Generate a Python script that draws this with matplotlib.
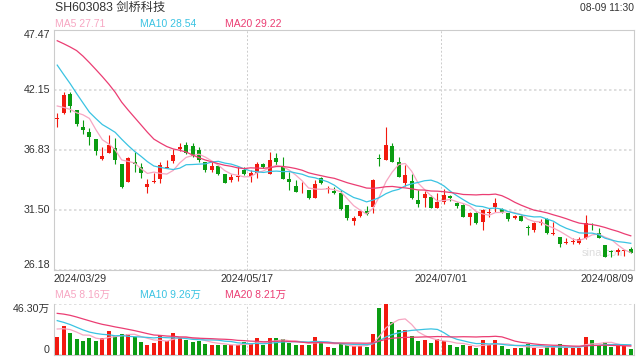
"""
Daily K-line for SH603083 with MA5/10/20 and volume panel (sina style).
"""

import numpy as np
import pandas as pd

import matplotlib
matplotlib.use("Agg")
import matplotlib.pyplot as plt

plt.rcParams["font.family"] = ["Liberation Sans", "Noto Sans CJK SC"]

TITLE = "SH603083 剑桥科技"
STAMP = "08-09 11:30"
date_labels = ["2024/03/29", "2024/05/17", "2024/07/01", "2024/08/09"]
price_ticks = [26.18, 31.50, 36.83, 42.15, 47.47]
vol_ticks = [0, 46.30]
vol_tick_labels = ["0", "46.30万"]
price_legend = ["MA5 27.71", "MA10 28.54", "MA20 29.22"]
vol_legend = ["MA5 8.16万", "MA10 9.26万", "MA20 8.21万"]

# daily OHLC, 2024/03/29 .. 2024/08/09 (90 sessions)
opens = [39.55, 40.07, 41.79, 40.37, 38.83, 38.45, 37.76, 36.02, 36.58, 36.97,
         35.58, 34.01, 35.72, 35.28, 33.50, 33.95, 34.22, 35.25, 35.84, 36.88,
         37.26, 37.17, 36.82, 35.73, 35.05, 35.40, 34.69, 34.16, 34.46, 35.05,
         34.51, 34.75, 35.58, 34.69, 36.08, 35.34, 34.25, 33.63, 33.33, 33.27,
         32.59, 34.31, 33.39, 33.18, 32.98, 31.94, 30.52, 31.00, 31.41, 31.79,
         36.05, 35.93, 37.18, 35.73, 33.93, 34.07, 32.39, 32.53, 32.68, 31.71,
         32.18, 32.77, 32.09, 31.94, 30.91, 31.20, 30.41, 31.24, 31.73, 31.59,
         31.26, 30.76, 30.96, 29.95, 29.72, 30.32, 30.67, 29.36, 29.13, 28.58,
         28.67, 28.60, 28.98, 29.98, 29.43, 28.39, 27.82, 27.80, 27.85, 28.05]
highs = [40.07, 41.97, 42.00, 40.40, 39.48, 38.74, 37.80, 37.11, 38.15, 37.85,
         35.60, 36.23, 36.67, 35.64, 34.24, 34.75, 35.78, 35.93, 36.88, 37.47,
         37.56, 37.41, 37.11, 35.80, 35.79, 35.45, 34.70, 34.69, 35.34, 35.28,
         35.05, 35.79, 35.70, 36.67, 36.52, 36.23, 34.84, 34.16, 34.01, 33.30,
         34.16, 34.46, 33.63, 33.51, 33.27, 31.94, 31.00, 31.50, 31.83, 34.25,
         36.44, 38.89, 37.42, 36.23, 35.49, 34.66, 33.27, 33.18, 32.83, 33.04,
         33.36, 32.83, 32.18, 32.00, 31.35, 31.35, 31.60, 31.65, 32.53, 31.65,
         31.27, 31.05, 31.05, 30.17, 30.46, 30.67, 30.76, 30.46, 29.13, 28.98,
         29.05, 29.13, 31.05, 30.37, 29.87, 28.39, 27.95, 28.10, 27.95, 28.20]
lows = [38.89, 40.05, 40.22, 38.98, 38.21, 37.26, 36.37, 35.93, 36.52, 35.55,
        33.45, 33.98, 34.90, 34.30, 33.03, 33.86, 33.92, 35.19, 35.64, 36.76,
        36.46, 36.22, 35.78, 34.90, 34.90, 34.60, 33.86, 34.00, 34.10, 34.60,
        34.01, 34.37, 35.19, 34.69, 35.49, 34.25, 33.27, 33.12, 33.03, 32.50,
        32.59, 33.80, 33.03, 32.92, 31.50, 30.60, 30.17, 30.91, 31.10, 31.20,
        35.43, 35.93, 35.79, 34.46, 33.66, 32.48, 31.80, 31.80, 31.65, 31.65,
        32.00, 32.30, 31.70, 30.90, 30.17, 30.30, 29.72, 30.90, 31.35, 31.25,
        30.55, 30.70, 30.50, 29.28, 29.57, 30.17, 29.37, 29.28, 28.25, 28.46,
        28.46, 28.46, 28.90, 29.72, 28.98, 27.30, 27.30, 27.50, 27.40, 27.65]
closes = [39.57, 41.70, 40.75, 39.13, 38.59, 37.94, 36.73, 36.29, 37.26, 35.93,
          33.51, 36.08, 35.60, 34.75, 33.80, 34.10, 35.49, 35.30, 36.37, 37.11,
          36.58, 36.28, 35.93, 35.05, 35.40, 34.69, 33.92, 34.40, 34.51, 34.69,
          34.81, 35.58, 35.28, 35.93, 35.73, 34.25, 34.01, 33.12, 33.36, 32.53,
          33.80, 33.86, 33.39, 32.98, 31.56, 30.76, 30.76, 31.41, 31.17, 34.16,
          36.02, 37.27, 35.79, 34.46, 34.61, 32.59, 32.00, 32.92, 31.71, 32.24,
          32.83, 32.53, 31.88, 30.91, 31.20, 30.32, 31.50, 31.26, 32.09, 31.29,
          30.67, 30.96, 30.55, 29.93, 30.32, 30.46, 29.43, 29.37, 28.48, 28.60,
          28.69, 28.90, 30.32, 29.96, 28.98, 27.30, 27.80, 27.95, 27.86, 27.70]
# volume in 万 shares
volumes = [16.6, 26.3, 20.3, 14.5, 13.0, 15.7, 13.0, 15.7, 22.1, 17.2,
           19.1, 19.1, 16.6, 12.1, 9.1, 11.2, 17.9, 12.7, 20.3, 16.6,
           13.6, 12.1, 13.0, 10.0, 9.1, 9.1, 9.1, 9.1, 9.1, 12.1,
           10.0, 15.1, 9.1, 15.1, 15.1, 14.5, 11.2, 9.1, 9.1, 9.1,
           16.6, 12.1, 7.0, 6.1, 10.0, 9.1, 8.2, 8.2, 7.0, 19.1,
           42.4, 46.3, 29.7, 22.7, 22.7, 17.2, 12.7, 13.6, 10.6, 14.2,
           13.0, 9.1, 7.0, 9.1, 8.2, 6.1, 13.6, 9.1, 13.6, 8.2,
           5.4, 6.7, 6.7, 10.0, 6.7, 5.4, 7.0, 7.0, 10.0, 6.7,
           6.7, 6.7, 16.6, 13.6, 8.2, 11.5, 7.6, 8.2, 8.2, 5.4]

# sessions before the window, only feed the moving averages
prev_closes = [47.0, 46.5, 45.5, 48.5, 49.5, 49.0, 48.8, 50.5, 50.5, 51.0,
               50.0, 48.8, 47.9, 47.0, 46.2, 42.35, 41.6, 40.63, 39.5]
prev_volumes = [40, 42, 45, 48, 50, 47, 46, 44, 42, 40,
                42, 40, 39, 37, 36, 25, 24, 26, 26.4]

RED = "#f2190f"
GREEN = "#0a9c12"
MA_COLORS = ["#f7a6c2", "#3ac3e2", "#eb3d73"]
GRID = "#d9d9d9"
BORDER = "#cccccc"
TXT = "#333333"
FS = 7.7


def moving_avg(prev, vals, n):
    s = pd.Series(list(prev) + list(vals), dtype=float)
    return s.rolling(n).mean().values[len(prev):]


def px(x):
    return x / 640


def py(y):
    return 1 - y / 360


o, h, l, c = map(np.array, (opens, highs, lows, closes))
v = np.array(volumes)
x = np.arange(len(c))
up = c >= o
cols = np.where(up, RED, GREEN)

fig = plt.figure(figsize=(6.4, 3.6), dpi=100)
ax = fig.add_axes([px(54), py(270), px(580), 240 / 360])
axv = fig.add_axes([px(54), py(355), px(580), 51 / 360])

# candles
ax.vlines(x, l, h, colors=cols, linewidth=0.8, zorder=3)
body = np.maximum(np.abs(c - o), 0.07)
ax.bar(x, body, bottom=np.minimum(o, c), width=0.62, color=cols,
       linewidth=0, zorder=4)
for n, col in zip([5, 10, 20], MA_COLORS):
    ax.plot(x, moving_avg(prev_closes, closes, n), color=col,
            linewidth=0.9, zorder=5)

# volume
axv.bar(x, v, width=0.62, color=cols, linewidth=0, zorder=3)
for n, col in zip([5, 10, 20], MA_COLORS):
    axv.plot(x, moving_avg(prev_volumes, volumes, n), color=col,
             linewidth=0.9, zorder=4)

n = len(c)
xticks = [-0.5, -0.5 + n / 3, -0.5 + 2 * n / 3, n - 0.5]
for a in (ax, axv):
    a.set_xlim(-0.5, n - 0.5)
    a.set_xticks(xticks)
    for s in a.spines.values():
        s.set_color(BORDER)
        s.set_linewidth(0.8)
    a.tick_params(length=0, colors=TXT, labelsize=FS)
    a.grid(True, axis="x", color=BORDER, linestyle=(0, (2, 2)),
           linewidth=0.7, zorder=0)
    a.grid(True, axis="y", color=GRID, linestyle=(0, (1.5, 1.5)),
           linewidth=1.2, zorder=0)
    a.set_axisbelow(True)

ax.set_ylim(price_ticks[0], price_ticks[-1])
ax.set_yticks(price_ticks)
ax.set_yticklabels([f"{t:.2f}" for t in price_ticks])
ax.set_xticklabels(date_labels)
ax.tick_params(axis="x", pad=3)
ax.tick_params(axis="y", pad=3)
xl = ax.get_xticklabels()
xl[0].set_ha("left")
xl[-1].set_ha("right")
yl = ax.get_yticklabels()
for t in yl:
    t.set_va("center")
yl[0].set_va("bottom")
yl[-1].set_va("top")

axv.set_ylim(vol_ticks[0], vol_ticks[-1])
axv.set_yticks(vol_ticks)
axv.set_yticklabels(vol_tick_labels)
axv.tick_params(axis="y", pad=3)
axv.set_xticklabels([])
axv.spines["top"].set_visible(False)
vl = axv.get_yticklabels()
vl[0].set_va("bottom")
vl[-1].set_va("top")

# header and legends
fig.text(px(55), py(8), TITLE, fontsize=8.8, color=TXT, va="center")
fig.text(px(634), py(8), STAMP, fontsize=7.4, color=TXT, va="center",
         ha="right")
for xpos, lab, col in zip([55, 140, 225], price_legend, MA_COLORS):
    fig.text(px(xpos), py(24), lab, fontsize=7.5, color=col, va="center")
for xpos, lab, col in zip([55, 140, 225], vol_legend, MA_COLORS):
    fig.text(px(xpos), py(295), lab, fontsize=7.5, color=col, va="center")
ax.text(0.91, 0.07, "sina.com", transform=ax.transAxes, fontsize=8,
        color="#dddddd", va="center", ha="left", zorder=2)

fig.savefig("out.png", dpi=100)
